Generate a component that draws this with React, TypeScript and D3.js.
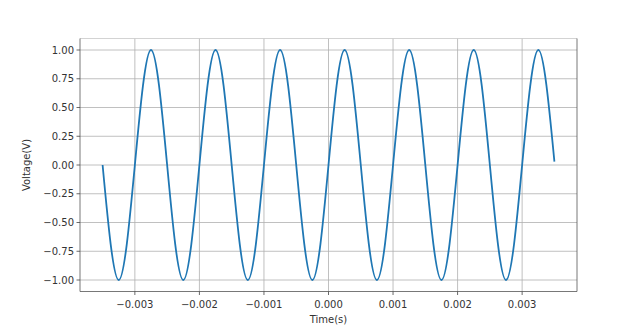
import React from "react";
import * as d3 from "d3";

const times = [
  -0.0035, -0.00325, -0.003, -0.00275, -0.0025, -0.00225, -0.002, -0.00175,
  -0.0015, -0.00125, -0.001, -0.00075, -0.0005, -0.00025, 0, 0.00025, 0.0005,
  0.00075, 0.001, 0.00125, 0.0015, 0.00175, 0.002, 0.00225, 0.0025, 0.00275,
  0.003, 0.00325, 0.0035,
];
const volts = [
  0, -1, 0, 1, 0, -1, 0, 1, 0, -1, 0, 1, 0, -1, 0, 1, 0, -1, 0, 1, 0, -1, 0, 1,
  0, -1, 0, 1, 0.03,
];
const xTicks = [-0.003, -0.002, -0.001, 0, 0.001, 0.002, 0.003];
const yTicks = [1, 0.75, 0.5, 0.25, 0, -0.25, -0.5, -0.75, -1];

const W = 640;
const H = 327;
const L = 80, R = 577, T = 38.5, B = 291.5;

export default function App() {
  const x = d3.scaleLinear().domain([-0.00385, 0.00385]).range([L, R]);
  const y = d3.scaleLinear().domain([-1.1, 1.1]).range([B, T]);
  const pts = times.map((t, i) => [t, volts[i]] as [number, number]);
  const line = d3
    .line<[number, number]>()
    .x((d) => x(d[0]))
    .y((d) => y(d[1]))
    .curve(d3.curveNatural);
  const fmtX = (v: number) => (v < 0 ? "\u2212" : "") + Math.abs(v).toFixed(3);
  const fmtY = (v: number) => (v < 0 ? "\u2212" : "") + Math.abs(v).toFixed(2);
  const font = "DejaVu Sans, sans-serif";
  return (
    <svg
      width={W}
      height={H}
      style={{ position: "absolute", left: 0, top: 0, background: "#fff" }}
      fontFamily={font}
    >
      {xTicks.map((t) => (
        <line key={"gx" + t} x1={x(t)} x2={x(t)} y1={T} y2={B} stroke="#b0b0b0" strokeWidth={0.8} />
      ))}
      {yTicks.map((t) => (
        <line key={"gy" + t} x1={L} x2={R} y1={y(t)} y2={y(t)} stroke="#b0b0b0" strokeWidth={0.8} />
      ))}
      <path d={line(pts) || ""} fill="none" stroke="#1f77b4" strokeWidth={1.8} />
      <line x1={L} x2={R} y1={T} y2={T} stroke="#c8c8c8" strokeWidth={0.8} />
      <line x1={L} x2={L} y1={T} y2={B} stroke="#555" strokeWidth={0.8} />
      <line x1={R} x2={R} y1={T} y2={B} stroke="#555" strokeWidth={0.8} />
      <line x1={L} x2={R} y1={B} y2={B} stroke="#555" strokeWidth={0.8} />
      {xTicks.map((t) => (
        <g key={"tx" + t}>
          <line x1={x(t)} x2={x(t)} y1={B} y2={B + 3.5} stroke="#444" strokeWidth={0.8} />
          <text x={x(t)} y={B + 16} fontSize={10} textAnchor="middle" fill="#333">
            {fmtX(t)}
          </text>
        </g>
      ))}
      {yTicks.map((t) => (
        <g key={"ty" + t}>
          <line x1={L - 3.5} x2={L} y1={y(t)} y2={y(t)} stroke="#444" strokeWidth={0.8} />
          <text x={L - 6} y={y(t) + 3.6} fontSize={10} textAnchor="end" fill="#333">
            {fmtY(t)}
          </text>
        </g>
      ))}
      <text x={(L + R) / 2} y={323} fontSize={10} textAnchor="middle" fill="#333">
        Time(s)
      </text>
      <text
        transform={`translate(30,${(T + B) / 2}) rotate(-90)`}
        fontSize={10}
        textAnchor="middle"
        fill="#333"
      >
        Voltage(V)
      </text>
    </svg>
  );
}
